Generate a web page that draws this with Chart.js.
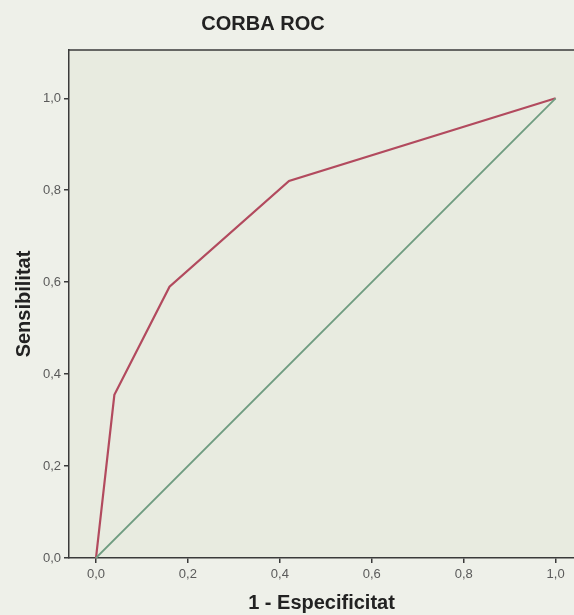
<!DOCTYPE html>
<html>
<head>
    <title>Corba ROC</title>
    <script src="https://cdn.jsdelivr.net/npm/chart.js"></script>
    <style>
        body { margin: 0; background: #eef0e9; }
    </style>
</head>
<body>
    <canvas id="roc" width="574" height="615"></canvas>

    <script>
        // Punts de la corba ROC (1 - especificitat, sensibilitat)
        const rocX = [0, 0.04, 0.16, 0.42, 1];
        const rocY = [0, 0.355, 0.59, 0.82, 1];
        // Linia de referencia
        const refX = [0, 1];
        const refY = [0, 1];

        const tickValues = [0, 0.2, 0.4, 0.6, 0.8, 1.0];
        const tickLabels = ['0,0', '0,2', '0,4', '0,6', '0,8', '1,0'];

        const toPoints = (xs, ys) => xs.map((x, i) => ({ x: x, y: ys[i] }));

        // fons de l'area del grafic, vora superior i titol
        const frame = {
            id: 'frame',
            beforeDraw(chart) {
                const { ctx, chartArea: a } = chart;
                ctx.save();
                ctx.fillStyle = '#e8ebe0';
                ctx.fillRect(a.left, a.top, a.right - a.left, a.bottom - a.top);
                ctx.strokeStyle = '#3a3a3a';
                ctx.lineWidth = 1.5;
                ctx.beginPath();
                ctx.moveTo(a.left, a.top);
                ctx.lineTo(a.right + 5, a.top);
                ctx.stroke();
                ctx.fillStyle = '#222';
                ctx.font = 'bold 20px "Liberation Sans", Arial, sans-serif';
                ctx.textAlign = 'center';
                ctx.textBaseline = 'middle';
                ctx.fillText('CORBA ROC', 263, 24);
                ctx.restore();
            }
        };

        const setTicks = scale => {
            scale.ticks = tickValues.map(v => ({ value: v }));
        };

        new Chart(document.getElementById('roc').getContext('2d'), {
            type: 'scatter',
            data: {
                datasets: [{
                    label: 'Referencia',
                    data: toPoints(refX, refY),
                    showLine: true,
                    borderColor: '#6f9c80',
                    borderWidth: 1.8,
                    pointRadius: 0,
                    tension: 0
                }, {
                    label: 'ROC',
                    data: toPoints(rocX, rocY),
                    showLine: true,
                    borderColor: '#b24a5e',
                    borderWidth: 2.2,
                    pointRadius: 0,
                    tension: 0
                }]
            },
            options: {
                responsive: false,
                animation: false,
                layout: { padding: { top: 50, left: 0, right: 0, bottom: 0 } },
                plugins: {
                    legend: { display: false },
                    tooltip: { enabled: false }
                },
                scales: {
                    x: {
                        min: -0.0587,
                        max: 1.04,
                        afterBuildTicks: setTicks,
                        afterFit: scale => { scale.height = 57; },
                        border: { display: true, color: '#3a3a3a', width: 1.5 },
                        grid: { drawOnChartArea: false, drawTicks: true, tickLength: 5, color: '#3a3a3a', lineWidth: 1.5 },
                        ticks: {
                            padding: 4,
                            color: '#5a5a5a',
                            font: { family: '"Liberation Sans", Arial, sans-serif', size: 13 },
                            callback: (v, i) => tickLabels[i]
                        },
                        title: {
                            display: true,
                            text: '1 - Especificitat',
                            color: '#222',
                            padding: { top: 1, bottom: 0 },
                            font: { family: '"Liberation Sans", Arial, sans-serif', size: 20, weight: 'bold' }
                        }
                    },
                    y: {
                        min: 0,
                        max: 1.105,
                        afterBuildTicks: setTicks,
                        afterFit: scale => { scale.width = 69; },
                        border: { display: true, color: '#3a3a3a', width: 1.5 },
                        grid: { drawOnChartArea: false, drawTicks: true, tickLength: 5, color: '#3a3a3a', lineWidth: 1.5 },
                        ticks: {
                            padding: 3,
                            color: '#5a5a5a',
                            font: { family: '"Liberation Sans", Arial, sans-serif', size: 13 },
                            callback: (v, i) => tickLabels[i]
                        },
                        title: {
                            display: true,
                            text: 'Sensibilitat',
                            color: '#222',
                            padding: { top: 12, bottom: 0 },
                            font: { family: '"Liberation Sans", Arial, sans-serif', size: 20, weight: 'bold' }
                        }
                    }
                }
            },
            plugins: [frame]
        });
    </script>
</body>
</html>
